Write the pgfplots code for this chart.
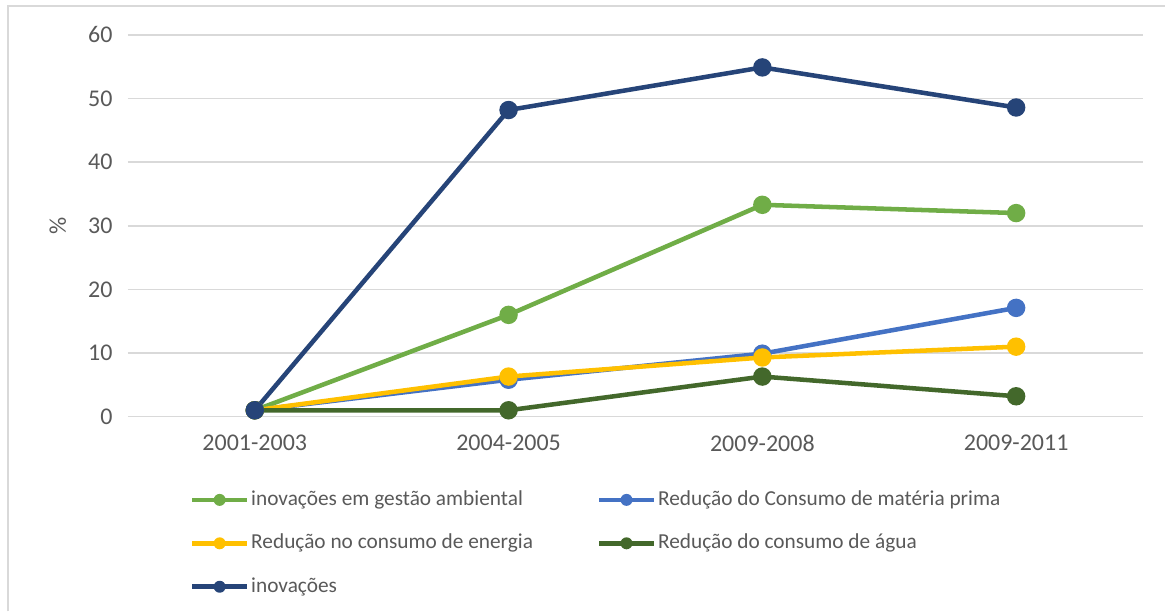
\documentclass[border=0pt]{standalone}
\usepackage{pgfplots}
\pgfplotsset{compat=1.18}
\usepackage{fontspec}
\setmainfont{Carlito}
\definecolor{cgreen}{HTML}{70AD47}
\definecolor{cblue}{HTML}{4472C4}
\definecolor{cyellow}{HTML}{FFC000}
\definecolor{cdkgreen}{HTML}{43682B}
\definecolor{cnavy}{HTML}{264478}
\definecolor{ctext}{HTML}{595959}
\definecolor{cgrid}{HTML}{D9D9D9}
\begin{document}
\begin{tikzpicture}
\path (0,0) rectangle (874.5pt,459pt);
\draw[cgrid, line width=1.5pt] (6pt,0pt) -- (6pt,454.5pt) -- (874.5pt,454.5pt);
\begin{axis}[
  at={(96pt,146.25pt)}, anchor=south west,
  scale only axis, width=762pt, height=286.5pt,
  xmin=-0.5, xmax=3.5, ymin=0, ymax=60,
  xtick={0,1,2,3},
  xticklabels={2001-2003,2004-2005,2009-2008,2009-2011},
  ytick={0,10,...,60},
  axis line style={draw=none},
  major tick length=0pt,
  ymajorgrids, grid style={cgrid, line width=1.2pt},
  tick label style={font=\fontsize{18}{20}\selectfont, text=ctext},
  /pgf/number format/assume math mode=true,
  yticklabel style={xshift=-8pt},
  xticklabel style={yshift=-10pt},
  ylabel={\%},
  ylabel style={font=\fontsize{18}{20}\selectfont, text=ctext, at={(rel axis cs:-0.069,0.5)}, anchor=center, rotate=0},
  every axis plot/.append style={line width=3.4pt, mark=*, mark size=5.2pt},
  legend columns=2,
  legend cell align=left,
  legend style={at={(rel axis cs:0.061,-0.193)}, anchor=north west, draw=none, fill=none, inner sep=0pt,
    font=\fontsize{16}{18}\selectfont, text=ctext, row sep=18.6pt,
    nodes={inner sep=0pt, text height=11pt, text depth=3pt},
    /tikz/every odd column/.append style={column sep=1.5pt}},
  legend image code/.code={
    \draw[#1, line width=3.4pt, mark=none] (0pt,0pt) -- (41pt,0pt);
    \fill[#1, draw=none] (20.5pt,0pt) circle (4.5pt);
  },
]
\addplot[cgreen] coordinates {(0,1) (1,16.0) (2,33.3) (3,32.0)};
\addlegendentry{\makebox[259.5pt][l]{inovações em gestão ambiental}}
\addplot[cblue] coordinates {(0,1) (1,5.8) (2,9.9) (3,17.1)};
\addlegendentry{Redução do Consumo de matéria prima}
\addplot[cyellow] coordinates {(0,1) (1,6.3) (2,9.3) (3,11.0)};
\addlegendentry{\makebox[259.5pt][l]{Redução no consumo de energia}}
\addplot[cdkgreen] coordinates {(0,1) (1,1) (2,6.3) (3,3.2)};
\addlegendentry{Redução do consumo de água}
\addplot[cnavy] coordinates {(0,1) (1,48.2) (2,54.9) (3,48.6)};
\addlegendentry{\makebox[259.5pt][l]{inovações}}
\end{axis}
\end{tikzpicture}
\end{document}
